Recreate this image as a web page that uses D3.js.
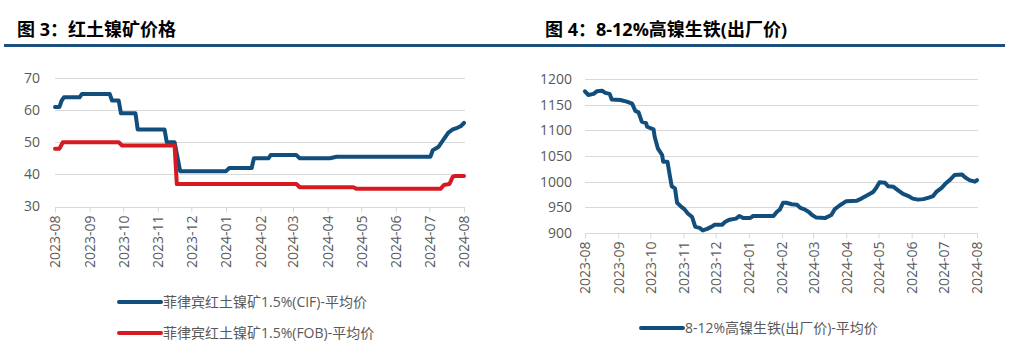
<!DOCTYPE html>
<html><head><meta charset="utf-8">
<script src="https://cdn.jsdelivr.net/npm/d3@7"></script>
<style>
html,body{margin:0;padding:0;background:#fff;}
svg{display:block;}
text{font-family:"Open Sans","Noto Sans CJK SC",sans-serif;}
</style></head><body>
<svg id="c" width="1024" height="356"></svg>
<script>
// ---- Data ----
const monthTicks = ["2023-08","2023-09","2023-10","2023-11","2023-12","2024-01","2024-02","2024-03","2024-04","2024-05","2024-06","2024-07","2024-08"];

const cifDates = ["2023-08-01","2023-08-05","2023-08-07","2023-08-09","2023-08-23","2023-08-25","2023-09-19","2023-09-21","2023-09-27","2023-09-29","2023-10-12","2023-10-14","2023-11-07","2023-11-09","2023-11-16","2023-11-21","2024-01-01","2024-01-04","2024-01-24","2024-01-26","2024-02-08","2024-02-10","2024-03-04","2024-03-07","2024-04-03","2024-04-09","2024-07-02","2024-07-04","2024-07-09","2024-07-13","2024-07-18","2024-07-22","2024-07-26","2024-07-29","2024-08-01"];
const cifValues = [61,61,63,64,64,65,65,63,63,59,59,54,54,50,50,41,41,42,42,45,45,46,46,45,45,45.5,45.5,47.5,48.5,50.5,53,54,54.5,55,56];

const fobDates = ["2023-08-01","2023-08-05","2023-08-08","2023-09-27","2023-09-30","2023-11-16","2023-11-18","2024-03-04","2024-03-07","2024-04-24","2024-04-27","2024-07-11","2024-07-14","2024-07-19","2024-07-22","2024-07-24","2024-08-01"];
const fobValues = [48,48,50,50,49,49,37,37,36,36,35.5,35.5,36.7,37,39.3,39.5,39.5];

const npiDates = ["2023-08-01","2023-08-04","2023-08-09","2023-08-12","2023-08-17","2023-08-20","2023-08-24","2023-08-26","2023-09-03","2023-09-09","2023-09-14","2023-09-17","2023-09-20","2023-09-23","2023-09-27","2023-09-28","2023-10-04","2023-10-05","2023-10-08","2023-10-12","2023-10-13","2023-10-17","2023-10-19","2023-10-21","2023-10-24","2023-10-26","2023-10-30","2023-11-02","2023-11-05","2023-11-09","2023-11-12","2023-11-16","2023-11-19","2023-11-23","2023-11-27","2023-11-30","2023-12-07","2023-12-10","2023-12-14","2023-12-20","2023-12-23","2023-12-27","2024-01-02","2024-01-05","2024-01-24","2024-01-27","2024-01-30","2024-02-02","2024-02-05","2024-02-10","2024-02-15","2024-02-18","2024-02-22","2024-02-26","2024-02-29","2024-03-04","2024-03-12","2024-03-18","2024-03-21","2024-03-26","2024-04-01","2024-04-11","2024-04-15","2024-04-21","2024-04-26","2024-04-29","2024-05-02","2024-05-07","2024-05-10","2024-05-15","2024-05-20","2024-05-24","2024-05-29","2024-06-02","2024-06-07","2024-06-12","2024-06-17","2024-06-21","2024-06-24","2024-06-29","2024-07-03","2024-07-07","2024-07-11","2024-07-18","2024-07-21","2024-07-25","2024-07-30","2024-08-01"];
const npiValues = [1176,1169,1171,1176,1177,1173,1171,1160,1159,1156,1152,1138,1135,1117,1114,1107,1102,1088,1065,1052,1039,1039,1014,991,987,959,951,946,938,931,912,910,905,908,912,916,916,922,926,928,933,929,929,933,933,941,946,959,959,956,955,949,946,941,935,930,929,935,946,954,962,963,967,974,980,988,999,998,991,990,982,976,972,967,965,966,969,972,980,988,997,1004,1013,1014,1008,1003,1000,1003];

const leftTicks = [30,40,50,60,70];
const rightTicks = [900,950,1000,1050,1100,1150,1200];

const titleLeft = "图 3：红土镍矿价格";
const titleRight = "图 4：8-12%高镍生铁(出厂价)";
const legendLeft = ["菲律宾红土镍矿1.5%(CIF)-平均价","菲律宾红土镍矿1.5%(FOB)-平均价"];
const legendRight = ["8-12%高镍生铁(出厂价)-平均价"];

const BLUE = "#124e7c", RED = "#d71a21", GRID = "#d9d9d9", TXT = "#595959";
const parse = d3.timeParse("%Y-%m-%d");
const parseM = d3.timeParse("%Y-%m");

const svg = d3.select("#c");

// titles and rule
svg.append("text").attr("x",17).attr("y",36).attr("font-size",18).attr("font-weight",700)
  .attr("font-family","'Noto Sans CJK SC',sans-serif").attr("fill","#000").text(titleLeft);
svg.append("text").attr("x",545).attr("y",36).attr("font-size",18).attr("font-weight",700)
  .attr("font-family","'Noto Sans CJK SC',sans-serif").attr("fill","#000").text(titleRight);
svg.append("rect").attr("x",4).attr("y",44).attr("width",1001).attr("height",3).attr("fill","#1b4f7d");

function panel(cfg){
  const x = d3.scaleTime().domain([parseM("2023-08"),parseM("2024-08")]).range([cfg.x0,cfg.x1]);
  const y = d3.scaleLinear().domain(cfg.ydom).range([cfg.y0,cfg.y1]);
  const g = svg.append("g");
  // gridlines
  g.selectAll(".gl").data(cfg.yticks.slice(1)).enter().append("line")
    .attr("x1",cfg.x0).attr("x2",cfg.x1+1).attr("y1",d=>Math.round(y(d))+0.5).attr("y2",d=>Math.round(y(d))+0.5)
    .attr("stroke",GRID).attr("stroke-width",1);
  // x axis
  const xa = g.append("g").attr("transform",`translate(0,${Math.round(cfg.y0)+0.5})`)
    .call(d3.axisBottom(x).tickValues(monthTicks.map(parseM)).tickFormat(d3.timeFormat("%Y-%m")).tickSize(5).tickSizeOuter(0));
  xa.select(".domain").attr("stroke",GRID).attr("d",`M${cfg.x0},0H${cfg.x1+1}`);
  xa.selectAll(".tick line").attr("stroke",GRID);
  xa.selectAll(".tick text").attr("fill",TXT).attr("font-size",14)
    .attr("font-family","'Open Sans',sans-serif")
    .attr("transform","rotate(-90)").attr("text-anchor","end")
    .attr("x",-8).attr("y",0).attr("dy","0.35em");
  // y axis labels
  const ya = g.append("g").attr("transform",`translate(${cfg.x0},0)`)
    .call(d3.axisLeft(y).tickValues(cfg.yticks).tickFormat(d3.format("d")).tickSize(0).tickPadding(cfg.ypad));
  ya.select(".domain").remove();
  ya.selectAll(".tick text").attr("fill",TXT).attr("font-size",14).attr("font-family","'Open Sans',sans-serif");
  // lines
  const line = d3.line().x(d=>x(d[0])).y(d=>y(d[1]));
  cfg.series.forEach(s=>{
    const pts = s.dates.map((d,i)=>[parse(d),s.values[i]]);
    g.append("path").attr("d",line(pts)).attr("fill","none").attr("stroke",s.color)
      .attr("stroke-width",4).attr("stroke-linejoin","round").attr("stroke-linecap","round");
  });
  // legend
  cfg.series.forEach((s,i)=>{
    const ly = cfg.legY + i*cfg.legDy;
    g.append("line").attr("x1",cfg.legX).attr("x2",cfg.legX+42).attr("y1",ly).attr("y2",ly)
      .attr("stroke",s.color).attr("stroke-width",4).attr("stroke-linecap","round");
    g.append("text").attr("x",cfg.legX+44).attr("y",ly).attr("dy","0.35em").attr("font-size",14)
      .attr("fill",TXT).text(s.name);
  });
}

panel({x0:55,x1:464,y0:206.5,y1:78,ydom:[30,70],yticks:leftTicks,ypad:15,
  legX:119,legY:302,legDy:31,
  series:[{dates:cifDates,values:cifValues,color:BLUE,name:legendLeft[0]},
          {dates:fobDates,values:fobValues,color:RED,name:legendLeft[1]}]});
panel({x0:585,x1:977,y0:233,y1:79,ydom:[900,1200],yticks:rightTicks,ypad:13,
  legX:641,legY:328,legDy:31,
  series:[{dates:npiDates,values:npiValues,color:BLUE,name:legendRight[0]}]});
</script>
</body></html>
